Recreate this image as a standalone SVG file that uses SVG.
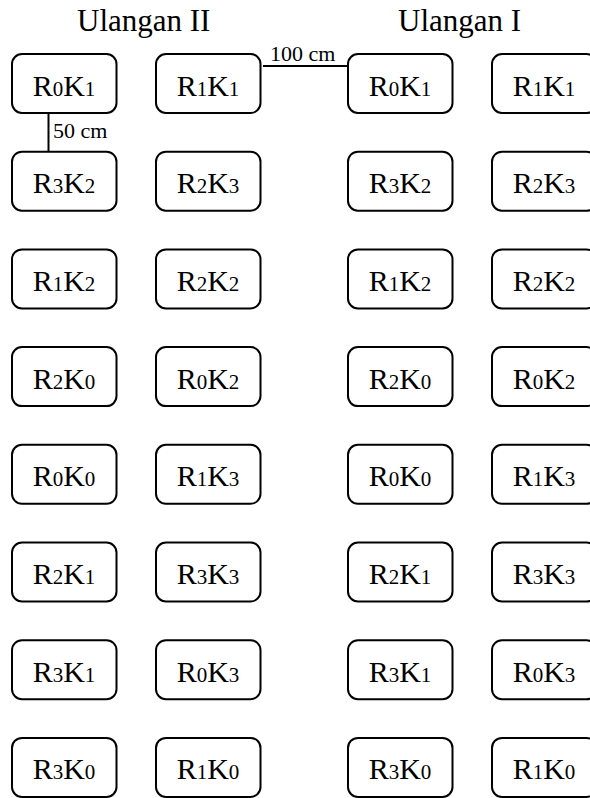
<svg xmlns="http://www.w3.org/2000/svg" width="590" height="798" viewBox="0 0 590 798">
<style>
.b{fill:#fff;stroke:#000;stroke-width:2}
.t{font-family:"Liberation Serif","Times New Roman",serif;font-size:30px;fill:#000;text-anchor:middle}
.s{font-size:21px}
.h{font-family:"Liberation Serif","Times New Roman",serif;font-size:31px;fill:#000}
.l{font-family:"Liberation Serif","Times New Roman",serif;font-size:22px;fill:#000}
.c{stroke:#000;stroke-width:2;fill:none}
</style>
<rect width="590" height="798" fill="#fff"/>
<text class="h" x="77" y="31">Ulangan II</text>
<text class="h" x="398" y="31">Ulangan I</text>
<g id="connectors">
<line class="c" x1="263" y1="66" x2="348" y2="66"/>
<text class="l" x="270" y="61">100 cm</text>
<line class="c" x1="48.5" y1="113" x2="48.5" y2="152"/>
<text class="l" x="53" y="138">50 cm</text>
</g>
<g id="n_c1r1"><rect class="b" x="12" y="54" width="104.5" height="59" rx="10"/><text class="t" x="64" y="95.5">R<tspan class="s">0</tspan>K<tspan class="s">1</tspan></text></g>
<g id="n_c1r2"><rect class="b" x="12" y="151.7" width="104.5" height="59" rx="10"/><text class="t" x="64" y="193.2">R<tspan class="s">3</tspan>K<tspan class="s">2</tspan></text></g>
<g id="n_c1r3"><rect class="b" x="12" y="249.4" width="104.5" height="59" rx="10"/><text class="t" x="64" y="290.9">R<tspan class="s">1</tspan>K<tspan class="s">2</tspan></text></g>
<g id="n_c1r4"><rect class="b" x="12" y="347.1" width="104.5" height="59" rx="10"/><text class="t" x="64" y="388.6">R<tspan class="s">2</tspan>K<tspan class="s">0</tspan></text></g>
<g id="n_c1r5"><rect class="b" x="12" y="444.8" width="104.5" height="59" rx="10"/><text class="t" x="64" y="486.3">R<tspan class="s">0</tspan>K<tspan class="s">0</tspan></text></g>
<g id="n_c1r6"><rect class="b" x="12" y="542.5" width="104.5" height="59" rx="10"/><text class="t" x="64" y="584">R<tspan class="s">2</tspan>K<tspan class="s">1</tspan></text></g>
<g id="n_c1r7"><rect class="b" x="12" y="640.2" width="104.5" height="59" rx="10"/><text class="t" x="64" y="681.7">R<tspan class="s">3</tspan>K<tspan class="s">1</tspan></text></g>
<g id="n_c1r8"><rect class="b" x="12" y="737.9" width="104.5" height="59" rx="10"/><text class="t" x="64" y="779.4">R<tspan class="s">3</tspan>K<tspan class="s">0</tspan></text></g>
<g id="n_c2r1"><rect class="b" x="156" y="54" width="104.5" height="59" rx="10"/><text class="t" x="208" y="95.5">R<tspan class="s">1</tspan>K<tspan class="s">1</tspan></text></g>
<g id="n_c2r2"><rect class="b" x="156" y="151.7" width="104.5" height="59" rx="10"/><text class="t" x="208" y="193.2">R<tspan class="s">2</tspan>K<tspan class="s">3</tspan></text></g>
<g id="n_c2r3"><rect class="b" x="156" y="249.4" width="104.5" height="59" rx="10"/><text class="t" x="208" y="290.9">R<tspan class="s">2</tspan>K<tspan class="s">2</tspan></text></g>
<g id="n_c2r4"><rect class="b" x="156" y="347.1" width="104.5" height="59" rx="10"/><text class="t" x="208" y="388.6">R<tspan class="s">0</tspan>K<tspan class="s">2</tspan></text></g>
<g id="n_c2r5"><rect class="b" x="156" y="444.8" width="104.5" height="59" rx="10"/><text class="t" x="208" y="486.3">R<tspan class="s">1</tspan>K<tspan class="s">3</tspan></text></g>
<g id="n_c2r6"><rect class="b" x="156" y="542.5" width="104.5" height="59" rx="10"/><text class="t" x="208" y="584">R<tspan class="s">3</tspan>K<tspan class="s">3</tspan></text></g>
<g id="n_c2r7"><rect class="b" x="156" y="640.2" width="104.5" height="59" rx="10"/><text class="t" x="208" y="681.7">R<tspan class="s">0</tspan>K<tspan class="s">3</tspan></text></g>
<g id="n_c2r8"><rect class="b" x="156" y="737.9" width="104.5" height="59" rx="10"/><text class="t" x="208" y="779.4">R<tspan class="s">1</tspan>K<tspan class="s">0</tspan></text></g>
<g id="n_c3r1"><rect class="b" x="348" y="54" width="104.5" height="59" rx="10"/><text class="t" x="400" y="95.5">R<tspan class="s">0</tspan>K<tspan class="s">1</tspan></text></g>
<g id="n_c3r2"><rect class="b" x="348" y="151.7" width="104.5" height="59" rx="10"/><text class="t" x="400" y="193.2">R<tspan class="s">3</tspan>K<tspan class="s">2</tspan></text></g>
<g id="n_c3r3"><rect class="b" x="348" y="249.4" width="104.5" height="59" rx="10"/><text class="t" x="400" y="290.9">R<tspan class="s">1</tspan>K<tspan class="s">2</tspan></text></g>
<g id="n_c3r4"><rect class="b" x="348" y="347.1" width="104.5" height="59" rx="10"/><text class="t" x="400" y="388.6">R<tspan class="s">2</tspan>K<tspan class="s">0</tspan></text></g>
<g id="n_c3r5"><rect class="b" x="348" y="444.8" width="104.5" height="59" rx="10"/><text class="t" x="400" y="486.3">R<tspan class="s">0</tspan>K<tspan class="s">0</tspan></text></g>
<g id="n_c3r6"><rect class="b" x="348" y="542.5" width="104.5" height="59" rx="10"/><text class="t" x="400" y="584">R<tspan class="s">2</tspan>K<tspan class="s">1</tspan></text></g>
<g id="n_c3r7"><rect class="b" x="348" y="640.2" width="104.5" height="59" rx="10"/><text class="t" x="400" y="681.7">R<tspan class="s">3</tspan>K<tspan class="s">1</tspan></text></g>
<g id="n_c3r8"><rect class="b" x="348" y="737.9" width="104.5" height="59" rx="10"/><text class="t" x="400" y="779.4">R<tspan class="s">3</tspan>K<tspan class="s">0</tspan></text></g>
<g id="n_c4r1"><rect class="b" x="492" y="54" width="104.5" height="59" rx="10"/><text class="t" x="544" y="95.5">R<tspan class="s">1</tspan>K<tspan class="s">1</tspan></text></g>
<g id="n_c4r2"><rect class="b" x="492" y="151.7" width="104.5" height="59" rx="10"/><text class="t" x="544" y="193.2">R<tspan class="s">2</tspan>K<tspan class="s">3</tspan></text></g>
<g id="n_c4r3"><rect class="b" x="492" y="249.4" width="104.5" height="59" rx="10"/><text class="t" x="544" y="290.9">R<tspan class="s">2</tspan>K<tspan class="s">2</tspan></text></g>
<g id="n_c4r4"><rect class="b" x="492" y="347.1" width="104.5" height="59" rx="10"/><text class="t" x="544" y="388.6">R<tspan class="s">0</tspan>K<tspan class="s">2</tspan></text></g>
<g id="n_c4r5"><rect class="b" x="492" y="444.8" width="104.5" height="59" rx="10"/><text class="t" x="544" y="486.3">R<tspan class="s">1</tspan>K<tspan class="s">3</tspan></text></g>
<g id="n_c4r6"><rect class="b" x="492" y="542.5" width="104.5" height="59" rx="10"/><text class="t" x="544" y="584">R<tspan class="s">3</tspan>K<tspan class="s">3</tspan></text></g>
<g id="n_c4r7"><rect class="b" x="492" y="640.2" width="104.5" height="59" rx="10"/><text class="t" x="544" y="681.7">R<tspan class="s">0</tspan>K<tspan class="s">3</tspan></text></g>
<g id="n_c4r8"><rect class="b" x="492" y="737.9" width="104.5" height="59" rx="10"/><text class="t" x="544" y="779.4">R<tspan class="s">1</tspan>K<tspan class="s">0</tspan></text></g>
</svg>
